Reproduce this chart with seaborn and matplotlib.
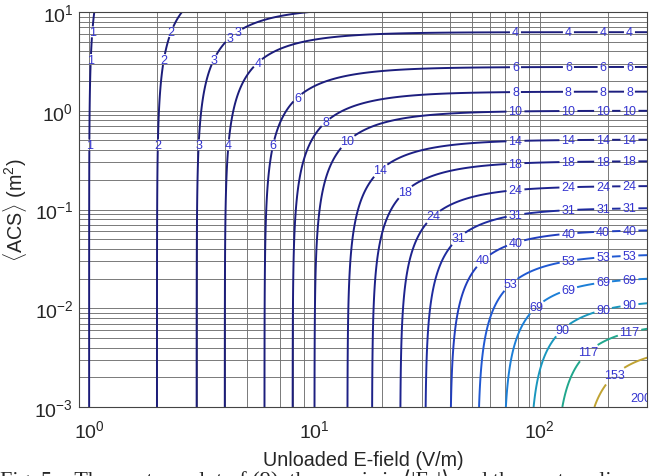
import numpy as np
import matplotlib
matplotlib.use("Agg")
import matplotlib.pyplot as plt
from matplotlib.colors import LinearSegmentedColormap
import seaborn as sns

# contour levels shown on the chart
levels = [1, 2, 3, 4, 6, 8, 10, 14, 18, 24, 31, 40, 53, 69, 90, 117, 153, 200]

# axis ranges (unloaded E-field in V/m, ACS in m^2)
e_range = [0.9, 300]
acs_range = [1e-3, 10]

# equation (9): 1/T^2 = 1/E^2 + ACS/K
acs_scale = 100.0

# where the labels sit
label_cols_e = [78, 134, 191, 250]
label_vert_acs = [0.45]
label_top_acs = [3.3, 6.3]
corner_factor = 1.4

# colour ramp (position, colour) picked off the line colours
ramp = [(0.0, "#1c1c78"), (0.12, "#1e2490"), (0.2, "#2244c8"),
        (0.27, "#1f66d8"), (0.34, "#1a8ad6"), (0.43, "#1a9ab8"),
        (0.55, "#22a888"), (0.7, "#c0a232"), (0.92, "#f2e020"),
        (1.0, "#f9fb0e")]


def field(e, acs):
    return 1.0 / np.sqrt(1.0 / e ** 2 + acs / acs_scale)


def acs_on(level, e):
    return acs_scale * (1.0 / level ** 2 - 1.0 / e ** 2)


def e_on(level, acs):
    return 1.0 / np.sqrt(1.0 / level ** 2 - acs / acs_scale)


sns.set_theme(style="white")
plt.rcParams["font.family"] = ["Liberation Sans", "DejaVu Sans"]
plt.rcParams["mathtext.fontset"] = "custom"
plt.rcParams["mathtext.rm"] = "Liberation Sans"
plt.rcParams["mathtext.it"] = "Liberation Sans:italic"
plt.rcParams["mathtext.bf"] = "Liberation Sans:bold"

E = np.logspace(np.log10(e_range[0]), np.log10(e_range[1]), 700)
A = np.logspace(np.log10(acs_range[0]), np.log10(acs_range[1]), 700)
EE, AA = np.meshgrid(E, A)
Z = field(EE, AA)

cmap = LinearSegmentedColormap.from_list("line_ramp", ramp)

fig = plt.figure(figsize=(6.68, 4.77), dpi=100)
ax = fig.add_axes([0.118, 0.1447, 0.851, 0.828])
ax.set_xscale("log")
ax.set_yscale("log")

cs = ax.contour(EE, AA, Z, levels=levels, cmap=cmap, vmin=0, vmax=Z.max(),
                linewidths=1.4)

# label positions along each contour
pts = []
for lv in levels:
    ec = corner_factor * lv
    for e in label_cols_e:
        if e > 1.35 * ec:
            a = acs_on(lv, e)
            if acs_range[0] * 1.3 < a < acs_range[1] * 0.9:
                pts.append((e, a))
    a = acs_on(lv, ec)
    if acs_range[0] * 1.1 < a < acs_range[1] * 0.9 and ec < 285:
        pts.append((ec, a))
    if lv <= 6:
        for a in label_vert_acs:
            pts.append((e_on(lv, a), a))
    if lv <= 3:
        for a in label_top_acs:
            if a < acs_scale / lv ** 2:
                pts.append((e_on(lv, a), a))

fig.canvas.draw()
texts = ax.clabel(cs, levels, manual=pts, inline=True, fmt="%d",
                  fontsize=9, colors="#3535d0", inline_spacing=2)
for t in texts:
    t.set_rotation(0)

ax.set_xlim(e_range)
ax.set_ylim(acs_range)

ax.grid(True, which="both", color="#707070", linewidth=0.65)
ax.set_axisbelow(True)
ax.tick_params(which="both", length=0)
ax.tick_params(axis="x", pad=9, labelsize=14)
ax.tick_params(axis="y", pad=4, labelsize=14)
for s in ax.spines.values():
    s.set_color("#444444")
    s.set_linewidth(0.8)

ax.set_xlabel("Unloaded E-field (V/m)", fontsize=14.2, labelpad=6)
ax.set_ylabel(r"$\langle$ACS$\rangle$ (m$^2$)", fontsize=14.2, labelpad=4)

fig.text(0.0, 0.016,
         "Fig. 5.   The contour plot of (9), the x-axis is \u27e8|E\u2080|\u27e9 and the contour lines",
         ha="left", va="top", fontsize=16,
         family=["Liberation Serif", "DejaVu Serif"])

fig.savefig("out.png", dpi=100)
